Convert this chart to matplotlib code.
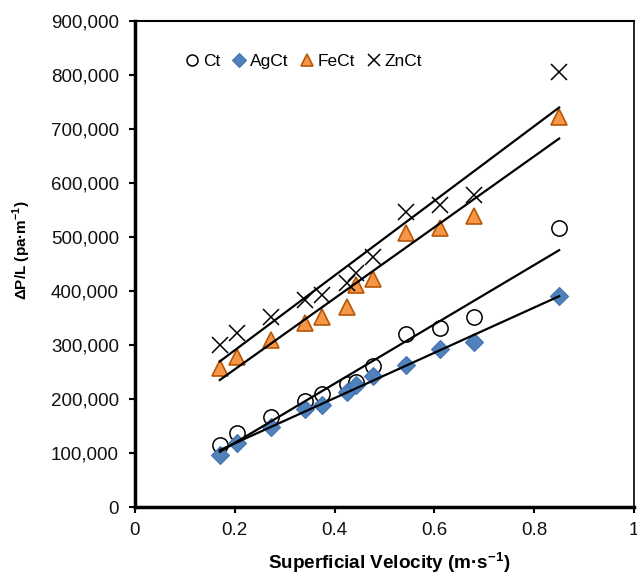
import numpy as np
import matplotlib
matplotlib.use("Agg")
import matplotlib.pyplot as plt

plt.rcParams['font.family'] = ['Liberation Sans', 'DejaVu Sans']

velocity = [0.170, 0.204, 0.272, 0.340, 0.374, 0.425, 0.442, 0.476, 0.544, 0.612, 0.680, 0.850]
ct   = [115000, 137000, 167000, 196000, 209000, 228000, 232000, 261000, 320000, 331000, 352000, 517000]
agct = [96000, 119000, 149000, 181000, 189000, 213000, 226000, 243000, 263000, 292000, 306000, 391000]
fect = [257000, 278000, 309000, 341000, 351000, 371000, 411000, 422000, 507000, 517000, 538000, 723000]
znct = [300000, 322000, 352000, 383000, 393000, 415000, 433000, 463000, 547000, 559000, 578000, 806000]

xticks = [0, 0.2, 0.4, 0.6, 0.8, 1]
xticklabels = ['0', '0.2', '0.4', '0.6', '0.8', '1']
yticks = list(range(0, 900001, 100000))

W, H = 637, 575
fig = plt.figure(figsize=(W / 100, H / 100), dpi=100)
ax = fig.add_axes([135 / W, (H - 507) / H, 499 / W, 486 / H])

x = np.array(velocity)
ax.plot(x, ct, linestyle='none', marker='o', markersize=11, markerfacecolor='white',
        markeredgecolor='black', markeredgewidth=1.1, label='Ct', zorder=2)
ax.plot(x, agct, linestyle='none', marker='D', markersize=9.5, markerfacecolor='#4F81BD',
        markeredgecolor='#4272AE', markeredgewidth=0.8, label='AgCt', zorder=2)
ax.plot(x, fect, linestyle='none', marker='^', markersize=12, markerfacecolor='#F79646',
        markeredgecolor='#B65708', markeredgewidth=1.2, label='FeCt', zorder=2)
ax.plot(x, znct, linestyle='none', marker='x', markersize=12, color='black',
        markeredgewidth=1.1, label='ZnCt', zorder=2)

for ys in (ct, agct, fect, znct):
    k, b = np.polyfit(x, np.array(ys, dtype=float), 1)
    xs = np.array([x.min(), x.max()])
    ax.plot(xs, k * xs + b, color='black', linewidth=1.6, zorder=3)

ax.set_xlim(0, 1)
ax.set_ylim(0, 900000)
ax.set_xticks(xticks)
ax.set_xticklabels(xticklabels)
ax.set_yticks(yticks)
ax.set_yticklabels([f"{v:,}" for v in yticks])
ax.tick_params(axis='both', labelsize=13.5, direction='out', length=4.5, width=1.5,
               color='black', labelcolor='#111111')
ax.tick_params(axis='y', pad=7)
ax.tick_params(axis='x', pad=6)

ax.spines['left'].set_linewidth(2.5)
ax.spines['bottom'].set_linewidth(2.5)
ax.spines['top'].set_linewidth(1.5)
ax.spines['right'].set_linewidth(1.2)

ax.set_xlabel('Superficial Velocity (m·s$^{\\mathregular{-1}}$)', fontsize=13.6, fontweight='bold')
ax.xaxis.set_label_coords(389 / W, 1 - 563 / H, transform=fig.transFigure)
ax.set_ylabel('ΔP/L (pa·m$^{\\mathregular{-1}}$)', fontsize=11, fontweight='bold')
ax.yaxis.set_label_coords(22 / W, 1 - 250 / H, transform=fig.transFigure)
ax.xaxis.label.set_va('center')
ax.yaxis.label.set_va('center')

leg = ax.legend(loc='center left', bbox_to_anchor=(182 / W, 1 - 61 / H),
                bbox_transform=fig.transFigure, ncol=4, frameon=False,
                fontsize=12.5, handletextpad=0.0, columnspacing=0.5, handlelength=1.2,
                markerscale=0.72, borderaxespad=0, borderpad=0)

fig.savefig('out.png', dpi=100)
